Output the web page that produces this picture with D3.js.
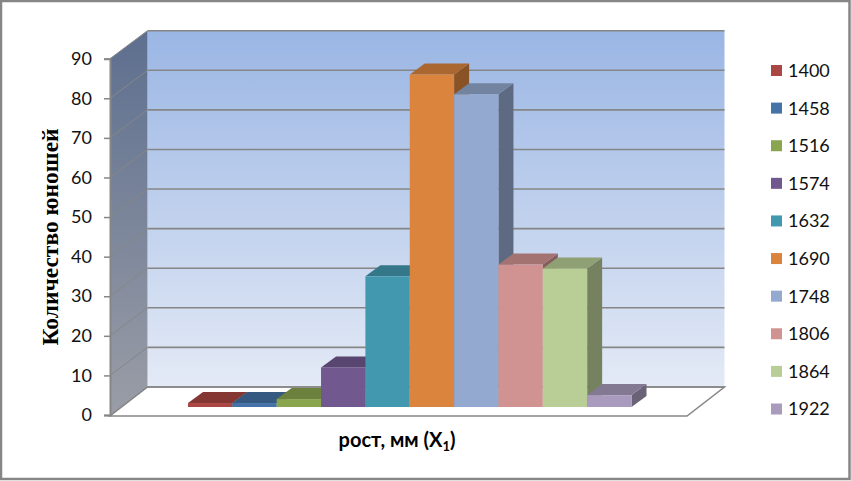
<!DOCTYPE html>
<meta charset="utf-8">

<script src="https://d3js.org/d3.v7.min.js"></script>

<style>
  html, body { margin: 0; padding: 0; background: #fff; }
  svg { display: block; }
</style>

<div id="chart"></div>

<script>

var years = ["1400", "1458", "1516", "1574", "1632", "1690", "1748", "1806", "1864", "1922"];
var counts = [1, 1, 2, 10, 33, 84, 79, 36, 35, 3];
var colors = ["#AA4643", "#4572A7", "#89A54E", "#71588F", "#4198AF", "#DB843D", "#93A9CF", "#D19392", "#B9CD96", "#A99BBD"];
var yTicks = [0, 10, 20, 30, 40, 50, 60, 70, 80, 90];

var width = 851,
  height = 481,
  frontLeft = 110,
  frontRight = 687,
  wallDx = 37.5,
  wallDy = 28,
  barDx = 15,
  barDy = 11,
  barLift = 8,
  gridColor = "#868686";

var svg = d3.select("#chart")
  .append("svg")
    .attr("width", width)
    .attr("height", height);

var defs = svg.append("defs");

function gradient(id, top, bottom) {
  var g = defs.append("linearGradient")
    .attr("id", id)
    .attr("x1", 0).attr("y1", 0).attr("x2", 0).attr("y2", 1);
  g.append("stop").attr("offset", "0%").attr("stop-color", top);
  g.append("stop").attr("offset", "100%").attr("stop-color", bottom);
}
gradient("wallFill", "#9AB6E4", "#E4EAF6");
gradient("sideFill", "#5D6F8F", "#9A9DA6");

var y = d3.scaleLinear().domain([0, 90]).range([415, 58.7]);
var x = d3.scaleBand().domain(years).range([188, 631.5]);
var legendY = d3.scalePoint().domain(years).range([70.5, 409]);

function poly(points) {
  return "M" + points.map(function(p){ return p.join(","); }).join("L") + "Z";
}

// outer frame
svg.append("rect")
  .attr("x", 1).attr("y", 1)
  .attr("width", width - 2.5).attr("height", height - 3)
  .attr("fill", "#fff")
  .attr("stroke", gridColor)
  .attr("stroke-width", 2.5);

var y0 = y(0), y90 = y(90);

// back wall
svg.append("rect")
  .attr("x", frontLeft + wallDx)
  .attr("y", y90 - wallDy)
  .attr("width", frontRight - frontLeft)
  .attr("height", y0 - y90)
  .attr("fill", "url(#wallFill)");

// side wall
svg.append("path")
  .attr("d", poly([[frontLeft, y90], [frontLeft + wallDx, y90 - wallDy], [frontLeft + wallDx, y0 - wallDy], [frontLeft, y0]]))
  .attr("fill", "url(#sideFill)");

// floor
svg.append("path")
  .attr("d", poly([[frontLeft, y0 + 1], [frontLeft + wallDx, y0 - wallDy], [frontRight + wallDx, y0 - wallDy], [frontRight, y0 + 1]]))
  .attr("fill", "#fff")
  .attr("stroke", gridColor)
  .attr("stroke-width", 1.5);

// grid on both walls
svg.selectAll("line.grid")
  .data(yTicks)
  .enter()
  .append("line")
    .attr("class", "grid")
    .attr("x1", frontLeft + wallDx)
    .attr("x2", frontRight + wallDx)
    .attr("y1", function(d){ return y(d) - wallDy; })
    .attr("y2", function(d){ return y(d) - wallDy; })
    .attr("stroke", gridColor)
    .attr("stroke-width", 1.6);

svg.selectAll("line.gridside")
  .data(yTicks)
  .enter()
  .append("line")
    .attr("class", "gridside")
    .attr("x1", frontLeft)
    .attr("x2", frontLeft + wallDx)
    .attr("y1", function(d){ return y(d); })
    .attr("y2", function(d){ return y(d) - wallDy; })
    .attr("stroke", gridColor)
    .attr("stroke-width", 1);

// y axis
var axis = svg.append("g")
  .attr("transform", "translate(" + frontLeft + ",0)")
  .call(d3.axisLeft(y).tickValues(yTicks).tickSize(6).tickPadding(12).tickFormat(d3.format("d")));

axis.select(".domain").attr("stroke", gridColor).attr("stroke-width", 2);
axis.selectAll(".tick line").attr("stroke", gridColor).attr("stroke-width", 1.5);
axis.selectAll(".tick text")
  .attr("fill", "#111")
  .style("font-family", "Lato")
  .style("font-size", "18px");

// bars, left to right so each one covers the side of the previous
var shade = function(c, k) { return d3.interpolateRgb(c, "#000")(k); };

var bars = svg.selectAll("g.bar")
  .data(years)
  .enter()
  .append("g")
    .attr("class", "bar");

bars.each(function(year, i) {
  var g = d3.select(this);
  var left = x(year),
    right = left + x.bandwidth(),
    top = y(counts[i]) - barLift,
    bottom = y(0) - barLift;

  g.append("path")
    .attr("d", poly([[right, top], [right + barDx, top - barDy], [right + barDx, bottom - barDy], [right, bottom]]))
    .attr("fill", shade(colors[i], 0.37));
  g.append("path")
    .attr("d", poly([[left, top], [left + barDx, top - barDy], [right + barDx, top - barDy], [right, top]]))
    .attr("fill", shade(colors[i], 0.22));
  g.append("rect")
    .attr("x", left)
    .attr("y", top)
    .attr("width", x.bandwidth())
    .attr("height", bottom - top)
    .attr("fill", colors[i]);
});

// titles
svg.append("text")
  .attr("transform", "translate(58,237) rotate(-90)")
  .attr("text-anchor", "middle")
  .style("font-family", "Liberation Serif")
  .style("font-weight", "bold")
  .style("font-size", "23.5px")
  .attr("fill", "#000")
  .text("Количество юношей");

var xTitle = svg.append("text")
  .attr("x", 397)
  .attr("y", 447)
  .attr("text-anchor", "middle")
  .style("font-family", "Lato")
  .style("font-weight", "bold")
  .style("font-size", "20px")
  .attr("fill", "#000");
xTitle.append("tspan").text("рост, мм (X");
xTitle.append("tspan").attr("dy", 4).style("font-size", "13px").text("1");
xTitle.append("tspan").attr("dy", -4).text(")");

// legend
var legend = svg.selectAll("g.legend")
  .data(years)
  .enter()
  .append("g")
    .attr("class", "legend")
    .attr("transform", function(d){ return "translate(771," + legendY(d) + ")"; });

legend.append("rect")
  .attr("x", 0).attr("y", -5.5)
  .attr("width", 11).attr("height", 11)
  .attr("fill", function(d, i){ return colors[i]; });

legend.append("text")
  .attr("x", 17)
  .attr("dy", "0.36em")
  .attr("fill", "#111")
  .style("font-family", "Lato")
  .style("font-size", "18px")
  .text(function(d){ return d; });

</script>
